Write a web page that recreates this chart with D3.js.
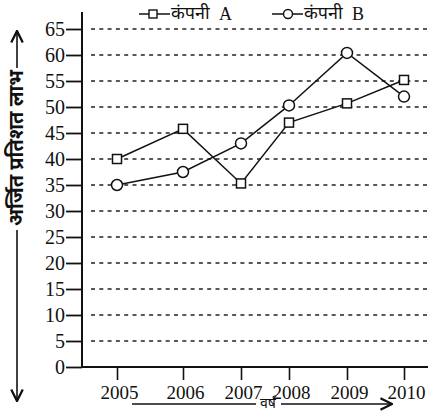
<!DOCTYPE html>
<html>
<head>
  <meta charset="utf-8">
  <script src="https://d3js.org/d3.v7.min.js"></script>
  <style>
    body { margin: 0; background: #fff; }
    text { fill: #111; }
    .serif { font-family: "Liberation Serif", "DejaVu Serif", serif; }
    .deva { font-family: "Noto Sans Devanagari", "Noto Sans", sans-serif; }
  </style>
</head>
<body>
  <div id="chart"></div>
  <script>
    // data
    var years = [2005, 2006, 2007, 2008, 2009, 2010];
    var companyA = [40, 45.8, 35.3, 47, 50.7, 55.2];
    var companyB = [35, 37.5, 43, 50.3, 60.4, 52];
    var yTicks = [0, 5, 10, 15, 20, 25, 30, 35, 40, 45, 50, 55, 60, 65];
    var seriesNames = ["कंपनी", "कंपनी"];
    var seriesTags = ["A", "B"];
    var yTitle = "अर्जित प्रतिशत लाभ";
    var xTitle = "वर्ष";

    var width = 428, height = 415;
    var svg = d3.select("#chart").append("svg")
      .attr("width", width).attr("height", height);

    var defs = svg.append("defs");
    defs.append("marker").attr("id", "arr")
      .attr("viewBox", "0 0 10 10").attr("refX", 9).attr("refY", 5)
      .attr("markerWidth", 9).attr("markerHeight", 9).attr("orient", "auto")
      .append("path").attr("d", "M1,1 L9,5 L1,9").attr("fill", "none")
      .attr("stroke", "#111").attr("stroke-width", 1.6);

    var x0 = 82, y0 = 367;

    // years are not evenly spaced in the original drawing
    var x = d3.scaleLinear().domain(years).range([117, 183, 241, 289, 347, 404]);
    var y = d3.scaleLinear().domain([0, 65]).range([y0, 29]);

    // dashed grid
    svg.append("g").selectAll("line").data(yTicks.filter(function(d){ return d > 0; }))
      .enter().append("line")
      .attr("x1", x0 + 9).attr("x2", width)
      .attr("y1", function(d){ return y(d); }).attr("y2", function(d){ return y(d); })
      .attr("stroke", "#222").attr("stroke-width", 1.6)
      .attr("stroke-dasharray", "4,4.3");

    // y axis
    var yAxis = svg.append("g").attr("transform", "translate(" + x0 + ",0)")
      .call(d3.axisLeft(y).tickValues(yTicks).tickSize(16).tickPadding(1));
    yAxis.attr("font-family", null).attr("font-size", null);
    yAxis.select(".domain").remove();
    yAxis.selectAll(".tick line").attr("stroke", "#111").attr("stroke-width", 1.8);
    yAxis.selectAll(".tick text").attr("class", "serif").style("font-size", "20px")
      .attr("fill", "#111").attr("dy", "0.33em");

    // x axis
    var xAxis = svg.append("g").attr("transform", "translate(0," + y0 + ")")
      .call(d3.axisBottom(x).tickValues(years).tickSize(13).tickPadding(4).tickFormat(d3.format("d")));
    xAxis.attr("font-family", null).attr("font-size", null);
    xAxis.select(".domain").remove();
    xAxis.selectAll(".tick line").attr("stroke", "#111").attr("stroke-width", 1.6);
    xAxis.selectAll(".tick text").attr("class", "serif").style("font-size", "19px")
      .attr("fill", "#111").attr("dx", 2).attr("dy", "0.8em");

    svg.append("line").attr("x1", x0).attr("x2", x0).attr("y1", 12).attr("y2", y0)
      .attr("stroke", "#111").attr("stroke-width", 2);
    svg.append("line").attr("x1", x0).attr("x2", width).attr("y1", y0).attr("y2", y0)
      .attr("stroke", "#111").attr("stroke-width", 2);

    // lines
    var line = d3.line().x(function(d, i){ return x(years[i]); }).y(function(d){ return y(d); });
    [companyA, companyB].forEach(function(s){
      svg.append("path").datum(s).attr("d", line)
        .attr("fill", "none").attr("stroke", "#111").attr("stroke-width", 1.5);
    });

    // markers
    svg.append("g").selectAll("rect").data(companyA).enter().append("rect")
      .attr("x", function(d, i){ return x(years[i]) - 4.5; })
      .attr("y", function(d){ return y(d) - 4.5; })
      .attr("width", 9).attr("height", 9)
      .attr("fill", "#fff").attr("stroke", "#111").attr("stroke-width", 1.5);
    svg.append("g").selectAll("circle").data(companyB).enter().append("circle")
      .attr("cx", function(d, i){ return x(years[i]); })
      .attr("cy", function(d){ return y(d); })
      .attr("r", 5.5)
      .attr("fill", "#fff").attr("stroke", "#111").attr("stroke-width", 1.5);

    // legend
    var legX = [139, 272];
    seriesNames.forEach(function(n, i){
      var g = svg.append("g").attr("transform", "translate(" + legX[i] + ",14)");
      g.append("line").attr("x1", 0).attr("x2", 31).attr("stroke", "#111").attr("stroke-width", 1.5);
      if (i === 0) {
        g.append("rect").attr("x", 10).attr("y", -4).attr("width", 8).attr("height", 8)
          .attr("fill", "#fff").attr("stroke", "#111").attr("stroke-width", 1.4);
      } else {
        g.append("circle").attr("cx", 16).attr("r", 4.5)
          .attr("fill", "#fff").attr("stroke", "#111").attr("stroke-width", 1.4);
      }
      g.append("text").attr("class", "deva").attr("x", 32).attr("y", 5)
        .style("font-size", "18px").text(n);
      g.append("text").attr("class", "serif").attr("x", 80).attr("y", 6)
        .style("font-size", "18px").text(seriesTags[i]);
    });

    // y title with arrows
    svg.append("text").attr("class", "deva")
      .attr("transform", "translate(23,148) rotate(-90)")
      .attr("text-anchor", "middle").style("font-size", "20px")
      .style("font-weight", "bold").text(yTitle);
    svg.append("line").attr("x1", 17).attr("x2", 17).attr("y1", 68).attr("y2", 31)
      .attr("stroke", "#111").attr("stroke-width", 1.6).attr("marker-end", "url(#arr)");
    svg.append("line").attr("x1", 17).attr("x2", 17).attr("y1", 230).attr("y2", 401)
      .attr("stroke", "#111").attr("stroke-width", 1.6).attr("marker-end", "url(#arr)");

    // x title with arrows
    svg.append("text").attr("class", "deva").attr("x", 268).attr("y", 408)
      .attr("text-anchor", "middle").style("font-size", "14px")
      .text(xTitle);
    svg.append("line").attr("x1", 132).attr("x2", 256).attr("y1", 404).attr("y2", 404)
      .attr("stroke", "#111").attr("stroke-width", 1.6);
    svg.append("line").attr("x1", 281).attr("x2", 392).attr("y1", 404).attr("y2", 404)
      .attr("stroke", "#111").attr("stroke-width", 1.6).attr("marker-end", "url(#arr)");
  </script>
</body>
</html>
